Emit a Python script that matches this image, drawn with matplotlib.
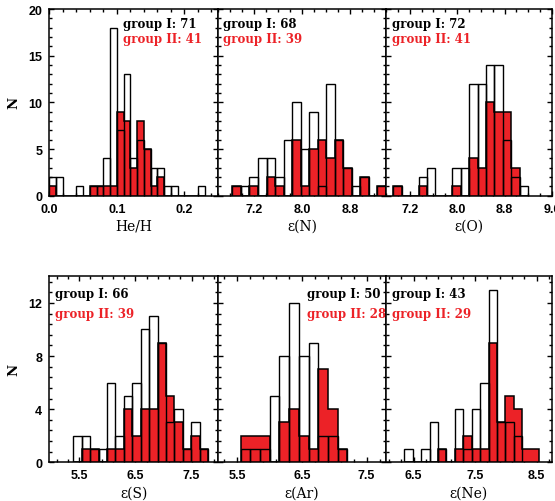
import numpy as np
import matplotlib
matplotlib.use('Agg')
import matplotlib.pyplot as plt
from matplotlib.ticker import MultipleLocator

# ---------------- data (counts per bin) ----------------
xlabels = ['He/H', 'ε(N)', 'ε(O)', 'ε(S)', 'ε(Ar)', 'ε(Ne)']
n_group1 = [71, 68, 72, 66, 50, 43]
n_group2 = [41, 39, 41, 39, 28, 29]

bin_start = [0.0, 6.84, 6.922, 5.395, 5.551, 6.348]
bin_width = [0.01, 0.1422, 0.1422, 0.15, 0.15, 0.137]

he_I  = [2, 2, 0, 0, 1, 0, 1, 1, 4, 18, 7, 13, 4, 6, 5, 3, 3, 1, 1, 0, 0, 0, 1]
he_II = [1, 0, 0, 0, 0, 0, 1, 1, 1, 1, 9, 8, 3, 8, 5, 1, 2, 0, 0, 0, 0, 0, 0]
n_I   = [1, 1, 2, 4, 4, 2, 6, 10, 5, 9, 1, 12, 6, 3, 1, 2, 0, 1]
n_II  = [1, 0, 1, 0, 2, 1, 0, 6, 1, 5, 6, 4, 6, 3, 0, 2, 0, 1]
o_I   = [1, 0, 0, 2, 3, 0, 0, 3, 3, 12, 12, 14, 14, 6, 2, 1]
o_II  = [1, 0, 0, 1, 0, 0, 0, 1, 0, 4, 3, 10, 9, 9, 3, 0]
s_I   = [2, 2, 1, 1, 6, 2, 5, 6, 10, 11, 9, 3, 4, 1, 3, 1]
s_II  = [0, 1, 1, 0, 1, 1, 4, 2, 4, 4, 9, 5, 3, 1, 2, 1]
ar_I  = [1, 1, 1, 5, 8, 12, 8, 9, 2, 2, 1]
ar_II = [2, 2, 2, 0, 3, 4, 2, 1, 7, 4, 1]
ne_I  = [1, 0, 1, 3, 1, 0, 4, 1, 4, 6, 13, 3, 3, 2, 0, 0]
ne_II = [0, 0, 0, 0, 1, 0, 1, 2, 1, 1, 9, 3, 5, 4, 1, 1]

groupI = [he_I, n_I, o_I, s_I, ar_I, ne_I]
groupII = [he_II, n_II, o_II, s_II, ar_II, ne_II]

xlims = [(0.0, 0.25), (6.6, 9.4), (6.8, 9.6), (4.97, 7.97), (5.2, 7.8), (6.05, 8.75)]
# ---------------------------------------------------------

RED = '#EC2227'
W, H = 555, 502
fig = plt.figure(figsize=(W / 100, H / 100), dpi=100)

xl = [49.3, 218, 386, 552]
rows = [(10, 196.7), (277.3, 463.3)]
text_pos = [(0.437, 0.92, 0.84), (0.03, 0.92, 0.84), (0.036, 0.92, 0.84),
            (0.034, 0.91, 0.80), (0.528, 0.91, 0.80), (0.034, 0.91, 0.80)]

serif = 'DejaVu Serif'
tickfont = 'Liberation Sans'

for i in range(6):
    r, c = divmod(i, 3)
    top, bot = rows[r]
    ax = fig.add_axes([xl[c] / W, 1 - bot / H, (xl[c + 1] - xl[c]) / W, (bot - top) / H])
    cI = np.asarray(groupI[i], float)
    cII = np.asarray(groupII[i], float)
    edges = bin_start[i] + bin_width[i] * np.arange(len(cI) + 1)
    lefts = edges[:-1]
    nz = cI > 0
    ax.bar(lefts[nz], cI[nz], width=bin_width[i], align='edge',
           color='white', edgecolor='none', zorder=1)
    ax.stairs(cII, edges, baseline=0, fill=True, facecolor=RED,
              edgecolor='black', linewidth=1.1, zorder=2)
    ax.bar(lefts[nz], cI[nz], width=bin_width[i], align='edge',
           fill=False, edgecolor='black', linewidth=1.0, zorder=3)
    ax.set_xlim(*xlims[i])
    if r == 0:
        ax.set_ylim(0, 20)
        ax.yaxis.set_major_locator(MultipleLocator(5))
        ax.yaxis.set_minor_locator(MultipleLocator(1))
    else:
        ax.set_ylim(0, 14)
        ax.yaxis.set_major_locator(MultipleLocator(4))
        ax.yaxis.set_minor_locator(MultipleLocator(0.8))
    if i == 0:
        ax.xaxis.set_major_locator(MultipleLocator(0.1))
        ax.xaxis.set_minor_locator(MultipleLocator(0.02))
    elif r == 0:
        ax.xaxis.set_major_locator(MultipleLocator(0.8))
        ax.xaxis.set_minor_locator(MultipleLocator(0.2))
    else:
        ax.xaxis.set_major_locator(MultipleLocator(1.0, offset=0.5))
        ax.xaxis.set_minor_locator(MultipleLocator(0.2, offset=0.1))
    ax.tick_params(which='both', direction='in', top=True, right=True,
                   width=1.0, colors='black')
    ax.tick_params(which='major', length=3.5, pad=5, labelsize=9)
    ax.tick_params(which='minor', length=2)
    ax.xaxis.set_major_formatter(plt.FuncFormatter(lambda v, p: f'{v:.1f}'))
    if c == 0:
        ax.set_ylabel('N', fontsize=9.5, family=serif, fontweight='bold', labelpad=6)
        ax.yaxis.set_major_formatter(plt.FuncFormatter(lambda v, p: f'{v:.0f}'))
    else:
        ax.set_yticklabels([])
    ax.set_xlabel(xlabels[i], fontsize=10, family=serif, labelpad=3)
    for sp in ax.spines.values():
        sp.set_linewidth(1.1)
    tx, ty1, ty2 = text_pos[i]
    ax.text(tx, ty1, f'group I: {n_group1[i]}', transform=ax.transAxes,
            fontsize=8.5, family=serif, fontweight='bold', color='black',
            va='center', zorder=5)
    ax.text(tx, ty2, f'group II: {n_group2[i]}', transform=ax.transAxes,
            fontsize=8.5, family=serif, fontweight='bold', color=RED,
            va='center', zorder=5)
    for lab in ax.get_xticklabels() + ax.get_yticklabels():
        lab.set_fontfamily(tickfont)
        lab.set_fontweight('bold')

fig.savefig('out.png', dpi=100)
